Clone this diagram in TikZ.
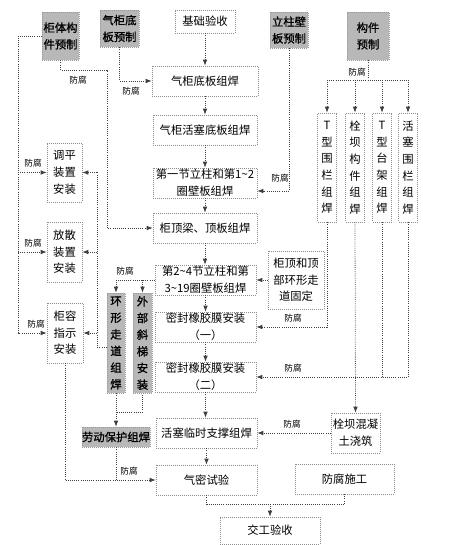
\documentclass[tikz,border=0pt]{standalone}
\usepackage{fontspec}
\setmainfont{Noto Sans CJK SC}
\newfontfamily\gfont[AutoFakeBold=1]{Noto Sans CJK SC}
\usetikzlibrary{arrows.meta}
\newcommand\bx[7]{\node[#6, minimum width={(#4-#2)*0.75pt}, minimum height={(#5-#3)*0.75pt}] (#1) at ({(#2+#4)/2},{(#3+#5)/2}) {#7};}
\begin{document}
\begin{tikzpicture}[x=0.75pt,y=-0.75pt,
  box/.style={draw=black!45, densely dotted, line width=0.5pt, align=center, inner sep=0pt,
    font=\fontsize{8.5}{12.5}\selectfont},
  gbox/.style={box, fill=black!28, draw=black!40, font=\fontsize{8.5}{12.5}\selectfont\gfont\bfseries},
  ln/.style={black!75, densely dotted, line width=0.6pt},
  arr/.style={ln, -{Latex[length=4.5pt,width=3.5pt]}},
  lbl/.style={font=\fontsize{6.5}{7}\selectfont, inner sep=1pt}]
\useasboundingbox (0,0) rectangle (473,545);
% top row
\bx{A}{42}{12}{79}{60}{gbox}{柜体构\\件预制}
\bx{B}{100}{10}{139}{47}{gbox}{气柜底\\板预制}
\bx{C}{175}{10}{235}{33}{box}{基础验收}
\bx{D}{270}{12}{308}{48}{gbox}{立柱壁\\板预制}
\bx{E}{347}{12}{389}{60}{gbox}{构件\\预制}
% main chain
\bx{F}{152}{66}{258}{96}{box}{气柜底板组焊}
\bx{G}{153}{115}{257}{145}{box}{气柜活塞底板组焊}
\bx{H}{153}{168}{257}{198}{box}{第一节立柱和第1\textasciitilde2\\圈壁板组焊}
\bx{I}{153}{213}{257}{243}{box}{柜顶梁、顶板组焊}
\bx{J}{155}{265}{256}{295}{box}{第2\textasciitilde4节立柱和第\\3\textasciitilde19圈壁板组焊}
\bx{K}{268}{251}{324}{309}{box}{柜顶和顶\\部环形走\\道固定}
\bx{L}{155}{312}{256}{342}{box}{密封橡胶膜安装\\（一）}
\bx{M}{155}{362}{256}{392}{box}{密封橡胶膜安装\\（二）}
\bx{N}{156}{418}{257}{448}{box}{活塞临时支撑组焊}
\bx{O}{156}{465}{257}{495}{box}{气密试验}
\bx{P}{295}{464}{394}{494}{box}{防腐施工}
\bx{Q}{220}{517}{320}{544}{box}{交工验收}
\bx{R}{331}{413}{380}{453}{box}{栓坝混凝\\土浇筑}
% right verticals
\bx{T1}{317.5}{113}{336.5}{222}{box}{T\\型\\围\\栏\\组\\焊}
\bx{T2}{345.5}{113}{364.5}{222}{box}{栓\\坝\\构\\件\\组\\焊}
\bx{T3}{372.5}{113}{391.5}{222}{box}{T\\型\\台\\架\\组\\焊}
\bx{T4}{398.5}{113}{417.5}{222}{box}{活\\塞\\围\\栏\\组\\焊}
% left
\bx{U}{47}{143}{82}{202}{box}{调平\\装置\\安装}
\bx{V}{47}{222}{82}{282}{box}{放散\\装置\\安装}
\bx{W}{47}{303}{83}{363}{box}{柜容\\指示\\安装}
\bx{X}{107}{293}{125}{393}{gbox}{环\\形\\走\\道\\组\\焊}
\bx{Y}{133}{293}{152}{393}{gbox}{外\\部\\斜\\梯\\安\\装}
\bx{Z}{82}{427}{150}{447}{gbox}{劳动保护组焊}
% main chain arrows
\foreach \a/\b in {C/F,F/G,G/H,H/I,I/J,J/L,L/M,M/N,N/O}
  \draw[arr] (\a.south) -- (\a.south |- \b.north);
% A left line
\draw[arr] (A.west) -| (18,333) -- (W.west);
\draw[arr] (18,172.5) -- (U.west);
\draw[arr] (18,252) -- (V.west);
\node[lbl] at (33,163) {防腐};
\node[lbl] at (33,243) {防腐};
\node[lbl] at (36,324) {防腐};
% A bottom line to I
\draw[arr] (A.south) |- (107,70) -- (107,228) -- (I.west);
\node[lbl] at (78,80) {防腐};
% B to F
\draw[arr] (B.south) |- (F.west);
\node[lbl] at (131,91) {防腐};
% D to H
\draw[arr] (D.south) |- ([yshift=-6pt]H.east);
\node[lbl] at (280,178) {防腐};
% E to verticals
\coordinate (ej) at (368,80);
\draw[ln] (E.south) -- (ej);
\draw[ln] (T1.north |- ej) -- (T4.north |- ej);
\foreach \t in {T1,T2,T3,T4} \draw[arr] (\t.north |- ej) -- (\t.north);
\node[lbl] at (357,72) {防腐};
% verticals down
\draw[arr] (T1.south) |- (L.east);
\node[lbl] at (293,318) {防腐};
\draw[arr] (T2.south) -- (R.north);
\draw[ln] (T3.south) -- (T3.south |- M.east);
\draw[arr] (T4.south) |- (M.east);
\node[lbl] at (293,368) {防腐};
\draw[arr] (R.west) -- (N.east);
\node[lbl] at (292,424) {防腐};
% K to J
\draw[arr] (K.west) -- (J.east);
% J to ring walk / ladder
\draw[ln] (J.west) -- (X.north |- J.west);
\draw[arr] (X.north |- J.west) -- (X.north);
\draw[arr] (Y.north |- J.west) -- (Y.north);
\node[lbl] at (125,271) {防腐};
% X,Y to Z
\coordinate (j2) at (116,412);
\draw[ln] (X.south) -- (j2) -| (Y.south);
\draw[arr] (j2) -- (Z.north);
% Z, W to O
\draw[ln] (Z.south) -- (Z.south |- O.west);
\draw[arr] (W.south) |- (O.west);
\node[lbl] at (129,471) {防腐};
% ring walk to left boxes
\coordinate (r) at (97,347);
\draw[ln] ([yshift=-3pt]X.west) -| (U.east -| r);
\draw[arr] (U.east -| r) -- (U.east);
\draw[arr] (V.east -| r) -- (V.east);
\draw[arr] (W.east -| r) -- (W.east);
% O to P and Q
\coordinate (b1) at (270,504);
\draw[ln] (O.south) |- (b1) -| (P.south);
\draw[arr] (b1) -- (Q.north);
\end{tikzpicture}
\end{document}
